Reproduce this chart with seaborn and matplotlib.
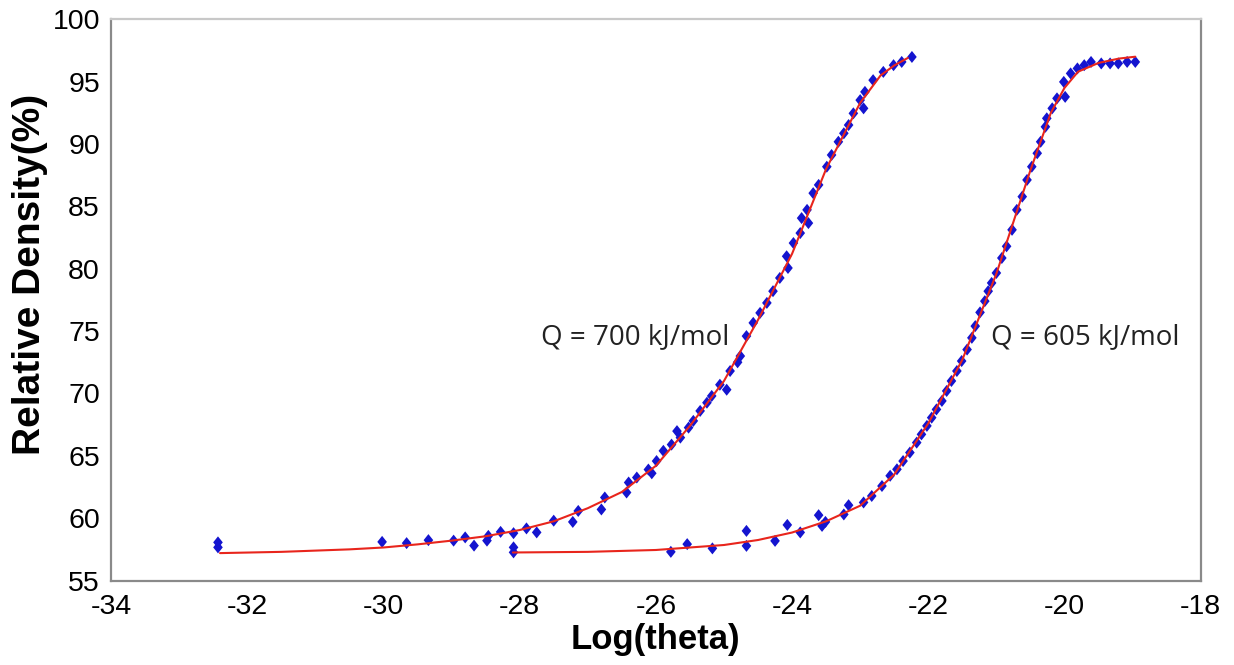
import matplotlib
matplotlib.use("Agg")
import matplotlib.pyplot as plt
from matplotlib.path import Path
import seaborn as sns
import pandas as pd

# ---- data ----
q700_x = [-32.43, -32.43, -30.02, -29.66, -29.34, -28.97, -28.80, -28.67, -28.48, -28.46,
          -28.28, -28.09, -27.90, -27.75, -27.50, -27.22, -27.14, -26.80, -26.75, -26.43,
          -26.40, -26.28, -26.11, -26.06, -25.99, -25.89, -25.77, -25.69, -25.64, -25.52,
          -25.45, -25.35, -25.25, -25.18, -25.06, -24.96, -24.91, -24.80, -24.76, -24.67,
          -24.57, -24.47, -24.37, -24.28, -24.18, -24.06, -24.08, -23.98, -23.88, -23.86,
          -23.76, -23.78, -23.69, -23.61, -23.49, -23.42, -23.32, -23.24, -23.17, -23.10,
          -22.95, -23.00, -22.93, -22.81, -22.66, -22.51, -22.39, -22.24]
q700_y = [58.06, 57.66, 58.10, 58.00, 58.24, 58.20, 58.46, 57.80, 58.20, 58.58,
          58.90, 58.80, 59.18, 58.86, 59.80, 59.70, 60.58, 60.70, 61.66, 62.06,
          62.86, 63.26, 63.90, 63.60, 64.58, 65.40, 65.90, 66.98, 66.46, 67.26,
          67.80, 68.60, 69.26, 69.80, 70.70, 70.30, 71.80, 72.50, 73.00, 74.60,
          75.66, 76.46, 77.26, 78.20, 79.26, 80.06, 81.00, 82.06, 82.86, 84.06,
          83.66, 84.72, 86.06, 86.72, 88.18, 89.12, 90.18, 90.86, 91.52, 92.46,
          92.86, 93.52, 94.18, 95.12, 95.78, 96.32, 96.58, 96.98]

q605_x = [-28.09, -28.09, -25.78, -25.54, -25.17, -24.67, -24.67, -24.25, -24.07, -23.88,
          -23.61, -23.56, -23.51, -23.24, -23.17, -22.95, -22.83, -22.68, -22.56, -22.46,
          -22.37, -22.27, -22.17, -22.10, -22.02, -21.95, -21.88, -21.80, -21.73, -21.66,
          -21.58, -21.51, -21.43, -21.36, -21.31, -21.24, -21.17, -21.12, -21.07, -21.00,
          -20.92, -20.85, -20.77, -20.70, -20.62, -20.55, -20.48, -20.40, -20.35, -20.28,
          -20.26, -20.18, -20.11, -19.99, -20.01, -19.91, -19.81, -19.71, -19.61, -19.46,
          -19.33, -19.21, -19.08, -18.96]
q605_y = [57.66, 57.26, 57.30, 57.92, 57.58, 58.98, 57.78, 58.18, 59.46, 58.86,
          60.24, 59.38, 59.70, 60.30, 61.04, 61.26, 61.78, 62.58, 63.40, 63.92,
          64.58, 65.26, 66.06, 66.72, 67.40, 68.06, 68.72, 69.40, 70.20, 71.00,
          71.80, 72.60, 73.52, 74.46, 75.40, 76.50, 77.40, 78.20, 78.86, 79.66,
          80.86, 81.80, 83.12, 84.72, 85.78, 87.12, 88.18, 89.26, 90.18, 91.38,
          92.06, 92.86, 93.66, 93.78, 94.98, 95.66, 96.06, 96.32, 96.58, 96.46,
          96.46, 96.46, 96.58, 96.58]

fit700_x = [-32.4, -31.5, -30.5, -30.0, -29.5, -29.0, -28.5, -28.0, -27.5, -27.0,
            -26.5, -26.0, -25.5, -25.0, -24.5, -24.0, -23.5, -23.0, -22.7, -22.5, -22.3]
fit700_y = [57.2, 57.3, 57.5, 57.65, 57.9, 58.2, 58.55, 59.05, 59.75, 60.8,
            62.1, 64.2, 67.4, 71.0, 75.9, 81.2, 88.0, 93.3, 95.5, 96.3, 96.9]

fit605_x = [-28.1, -27.0, -26.0, -25.0, -24.5, -24.0, -23.5, -23.0, -22.5, -22.0,
            -21.5, -21.0, -20.5, -20.2, -20.0, -19.8, -19.5, -19.2, -18.96]
fit605_y = [57.25, 57.3, 57.45, 57.85, 58.25, 58.85, 59.75, 61.0, 63.5, 67.6,
            72.7, 79.6, 87.9, 92.5, 94.5, 95.8, 96.5, 96.85, 97.0]

labels = ["Q = 700 kJ/mol", "Q = 605 kJ/mol"]
x_ticks = [-34, -32, -30, -28, -26, -24, -22, -20, -18]
y_ticks = [55, 60, 65, 70, 75, 80, 85, 90, 95, 100]

pts = pd.concat([
    pd.DataFrame({"x": q700_x, "y": q700_y, "series": labels[0]}),
    pd.DataFrame({"x": q605_x, "y": q605_y, "series": labels[1]}),
])
fits = [pd.DataFrame({"x": fit700_x, "y": fit700_y}),
        pd.DataFrame({"x": fit605_x, "y": fit605_y})]

sns.set_theme(style="white")
plt.rcParams["font.family"] = ["Liberation Sans", "DejaVu Sans"]

fig = plt.figure(figsize=(12.34, 6.65), dpi=100)
ax = fig.add_axes([0.090, 0.127, 0.883, 0.844])

diamond = Path([(0, 1), (0.8, 0), (0, -1), (-0.8, 0), (0, 1)],
               [Path.MOVETO, Path.LINETO, Path.LINETO, Path.LINETO, Path.CLOSEPOLY])

blue = "#1414cf"
red = "#e8251c"
sns.scatterplot(data=pts, x="x", y="y", hue="series", palette=[blue, blue],
                marker=diamond, s=75, linewidth=0, legend=False, ax=ax, zorder=2)
for f in fits:
    sns.lineplot(data=f, x="x", y="y", sort=False, estimator=None, color=red,
                 linewidth=1.5, ax=ax, zorder=3)

ax.set_xlim(-34, -18)
ax.set_ylim(55, 100)
ax.set_xticks(x_ticks)
ax.set_yticks(y_ticks)
ax.set_xticklabels([str(t) for t in x_ticks])
ax.set_yticklabels([str(t) for t in y_ticks])
ax.tick_params(direction="in", length=8, width=1.2, color="#777777",
               labelsize=20.5, labelcolor="black", pad=8)
ax.tick_params(axis="x", pad=10)

for name, sp in ax.spines.items():
    sp.set_visible(True)
    sp.set_color("#8a8a8a")
    sp.set_linewidth(1.6)
ax.spines["top"].set_color("#c8c8c8")

ax.set_xlabel("Log(theta)", fontsize=25, fontweight="bold", color="black")
ax.set_ylabel("Relative Density(%)", fontsize=28, fontweight="bold", color="black")
ax.xaxis.set_label_coords(0.5, -0.075, transform=ax.transAxes)
ax.yaxis.set_label_coords(-0.058, 0.545, transform=ax.transAxes)
ax.xaxis.label.set_va("top")

ax.text(-27.69, 74.5, labels[0], fontsize=20, family=["Open Sans", "DejaVu Sans"],
        va="center", ha="left", color="#222222")
ax.text(-21.08, 74.5, labels[1], fontsize=20, family=["Open Sans", "DejaVu Sans"],
        va="center", ha="left", color="#222222")

fig.savefig("out.png", dpi=100, facecolor="white")
